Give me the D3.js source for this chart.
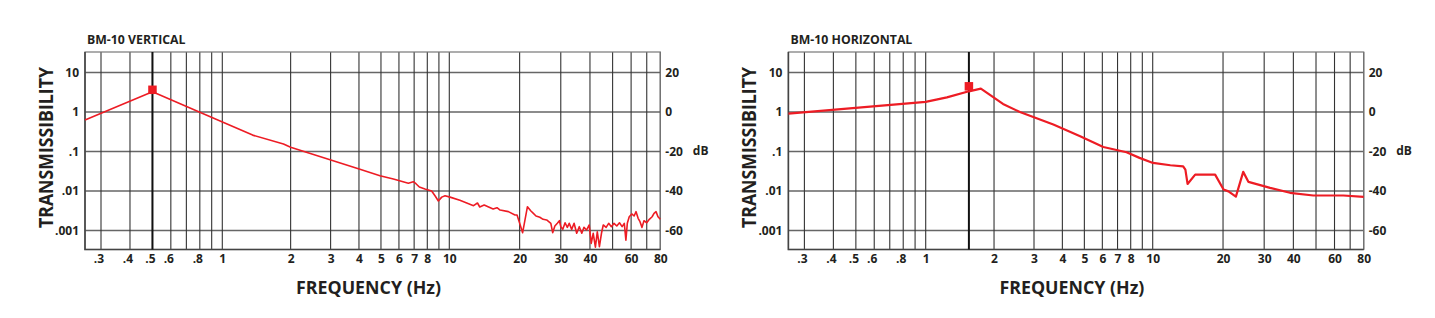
<!DOCTYPE html>
<html>
<head>
<meta charset="utf-8">
<script src="https://cdn.jsdelivr.net/npm/d3@7.9.0/dist/d3.min.js"></script>
<style>
  body { margin: 0; background: #fff; }
  svg text { font-family: "Open Sans", sans-serif; font-weight: 700; fill: #231f20; }
</style>
</head>
<body>
<svg id="chart" width="1435" height="318"></svg>
<script>
// chart titles
const titles = ['BM-10 VERTICAL', 'BM-10 HORIZONTAL'];

// vertical isolator curve (Hz, transmissibility)
const verticalFreq = [0.256, 0.5, 0.8, 1.36, 1.86, 2.0, 4.04, 4.95, 5.67, 6.6, 6.94, 7.13, 7.38, 7.81, 8.36, 8.65,
  8.95, 9.26, 9.58, 10.07, 11.1, 12.7, 13.2, 13.5, 14.1, 15.4, 16.0, 16.5, 17.9, 19.1, 19.5, 20.6, 21.6, 22.3, 22.9, 23.5,
  24.4, 25.2, 26.1, 27.2, 27.7, 28.3, 29.0, 29.6, 30.0, 30.6, 31.3, 32.0, 32.6, 33.4, 34.2, 35.1, 36.0, 36.9, 37.7, 38.7,
  39.7, 40.5, 41.3, 42.2, 43.0, 43.9, 44.8, 45.6, 46.9, 48.1, 49.4, 50.7, 52.1, 53.5, 54.9, 56.1, 57.0, 57.8, 58.9, 60.4,
  61.8, 63.0, 64.3, 65.5, 66.8, 68.1, 70.0, 71.8, 73.8, 75.2, 76.7, 78.2, 80];
const verticalTrans = [0.63, 3.27, 0.98, 0.26, 0.155, 0.128, 0.0354, 0.0244, 0.0201, 0.0157, 0.0172, 0.0153, 0.0126, 0.0112, 0.0100, 0.0076,
  0.0056, 0.0070, 0.0076, 0.0070, 0.0058, 0.00425, 0.00497, 0.00394, 0.00442, 0.0035, 0.00378, 0.0033, 0.0030, 0.00247, 0.00247, 0.00088, 0.0040, 0.00317, 0.00272, 0.00233,
  0.00216, 0.00192, 0.00185, 0.00152, 0.00088, 0.0013, 0.00152, 0.00177, 0.00125, 0.00107, 0.00157, 0.0012, 0.00152, 0.00107, 0.00152, 0.00085, 0.00125, 0.00085, 0.0012, 0.00103,
  0.00138, 0.00047, 0.00085, 0.00038, 0.00093, 0.00039, 0.00085, 0.00138, 0.0012, 0.00152, 0.00125, 0.00152, 0.0013, 0.00157, 0.00125, 0.00152, 0.00057, 0.00152, 0.00223, 0.00262,
  0.00233, 0.0030, 0.00204, 0.00167, 0.0012, 0.00177, 0.00157, 0.00192, 0.00223, 0.00272, 0.0030, 0.00223, 0.00192];

// horizontal isolator curve
const horizontalFreq = [0.256, 1.0, 1.24, 1.55, 1.75, 2.19, 2.6, 3.65, 4.79, 6.06, 7.67, 8.75, 10.03, 11.9, 13.5, 13.8, 14.1,
  15.2, 18.5, 20.1, 21.1, 22.7, 24.4, 25.7, 31.8, 38.7, 48.7, 65.5, 80];
const horizontalTrans = [0.91, 1.8, 2.35, 3.34, 3.9, 1.6, 1.0, 0.48, 0.243, 0.13, 0.0955, 0.069, 0.0514, 0.0448, 0.0422, 0.0348, 0.0151,
  0.026, 0.026, 0.0109, 0.0098, 0.0072, 0.0305, 0.017, 0.012, 0.009, 0.0077, 0.0077, 0.0071];

// resonance markers
const resonanceFreq = [0.5, 1.55];
const resonanceTrans = [3.65, 4.47];

// grid + ticks
const gridFreqs = [0.3, 0.4, 0.5, 0.6, 0.7, 0.8, 0.9, 1, 2, 3, 4, 5, 6, 7, 8, 9, 10, 20, 30, 40, 50, 60, 70, 80];
const xTickValues = [0.3, 0.4, 0.5, 0.6, 0.8, 1, 2, 3, 4, 5, 6, 7, 8, 10, 20, 30, 40, 60, 80];
const xTickLabels = ['.3', '.4', '.5', '.6', '.8', '1', '2', '3', '4', '5', '6', '7', '8', '10', '20', '30', '40', '60', '80'];
const yTickValues = [10, 1, 0.1, 0.01, 0.001];
const yTickLabels = ['10', '1', '.1', '.01', '.001'];
const dbTickLabels = ['20', '0', '-20', '-40', '-60'];

const RED = '#ed1c24';
const plotW = 575.3, plotH = 197.5;

const panels = [
  { left: 85, top: 52, freq: verticalFreq, trans: verticalTrans, lineW: 1.6 },
  { left: 788.4, top: 52, freq: horizontalFreq, trans: horizontalTrans, lineW: 2.2 }
];

const svg = d3.select('#chart');

// the printed log scale is a bit uneven, so anchor it at the decades
const x = d3.scaleLog()
  .domain([0.3, 1, 10, 80])
  .range([16, 137.3, 364.3, plotW]);

const y = d3.scaleLog()
  .domain([0.001, 10])
  .range([178.5, 20.5]);

panels.forEach((p, idx) => {
  let g = svg.append('g').attr('transform', `translate(${p.left},${p.top})`);

  // horizontal grid
  g.selectAll('line.hgrid')
    .data(yTickValues)
    .join('line')
    .attr('class', 'hgrid')
    .attr('x1', 0).attr('x2', plotW)
    .attr('y1', (d) => y(d)).attr('y2', (d) => y(d))
    .attr('stroke', '#666').attr('stroke-width', 1.4);

  // vertical grid
  g.selectAll('line.vgrid')
    .data(gridFreqs)
    .join('line')
    .attr('class', 'vgrid')
    .attr('x1', (d) => x(d)).attr('x2', (d) => x(d))
    .attr('y1', 0).attr('y2', plotH)
    .attr('stroke', '#333').attr('stroke-width', 1.1);

  // frame
  g.append('rect')
    .attr('width', plotW).attr('height', plotH)
    .attr('fill', 'none').attr('stroke', '#777').attr('stroke-width', 1.2);
  g.append('path')
    .attr('d', `M0,0V${plotH}H${plotW}`)
    .attr('fill', 'none').attr('stroke', '#444').attr('stroke-width', 1.6);

  // resonance line
  g.append('line')
    .attr('x1', x(resonanceFreq[idx])).attr('x2', x(resonanceFreq[idx]))
    .attr('y1', 0).attr('y2', plotH)
    .attr('stroke', '#111').attr('stroke-width', 2);

  // curve
  let line = d3.line()
    .x((d, i) => x(p.freq[i]))
    .y((d, i) => y(p.trans[i]));
  g.append('path')
    .datum(p.freq)
    .attr('d', line)
    .attr('fill', 'none')
    .attr('stroke', RED)
    .attr('stroke-width', p.lineW)
    .attr('stroke-linejoin', 'round');

  // marker
  g.append('rect')
    .attr('x', x(resonanceFreq[idx]) - 4.25)
    .attr('y', y(resonanceTrans[idx]) - 4.25)
    .attr('width', 8.5).attr('height', 8.5)
    .attr('fill', RED);

  // bottom labels
  let xAxis = g.append('g')
    .attr('transform', `translate(0,${plotH})`)
    .call(d3.axisBottom(x).tickValues(xTickValues).tickFormat((d, i) => xTickLabels[i]).tickSize(0).tickPadding(5));
  xAxis.select('.domain').remove();
  xAxis.selectAll('text')
    .attr('font-size', 12)
    .attr('dx', (d, i) => xTickLabels[i].startsWith('.') ? -2.5 : 0);

  // left labels
  let yAxis = g.append('g')
    .call(d3.axisLeft(y).tickValues(yTickValues).tickFormat((d, i) => yTickLabels[i]).tickSize(0).tickPadding(6));
  yAxis.select('.domain').remove();
  yAxis.selectAll('text').attr('font-size', 12);

  // dB labels
  let dbAxis = g.append('g')
    .attr('transform', `translate(${plotW},0)`)
    .call(d3.axisRight(y).tickValues(yTickValues).tickFormat((d, i) => dbTickLabels[i]).tickSize(0).tickPadding(5));
  dbAxis.select('.domain').remove();
  dbAxis.selectAll('text').attr('font-size', 12);
  [xAxis, yAxis, dbAxis].forEach((a) => a.attr('font-family', null));

  g.append('text')
    .attr('x', plotW + 32.5).attr('y', y(0.1)).attr('dy', '0.32em')
    .attr('font-size', 12)
    .text('dB');

  // title
  g.append('text')
    .attr('x', 2).attr('y', -8)
    .attr('font-size', 12.3)
    .text(titles[idx]);

  // axis titles
  g.append('text')
    .attr('transform', `translate(-32,${147.5 - p.top}) rotate(-90)`)
    .attr('text-anchor', 'middle')
    .attr('font-size', 19)
    .attr('textLength', 161).attr('lengthAdjust', 'spacingAndGlyphs')
    .text('TRANSMISSIBILITY');

  g.append('text')
    .attr('x', 283.5).attr('y', plotH + 44.5)
    .attr('text-anchor', 'middle')
    .attr('font-size', 18)
    .attr('textLength', 145).attr('lengthAdjust', 'spacingAndGlyphs')
    .text('FREQUENCY (Hz)');
});
</script>
</body>
</html>
